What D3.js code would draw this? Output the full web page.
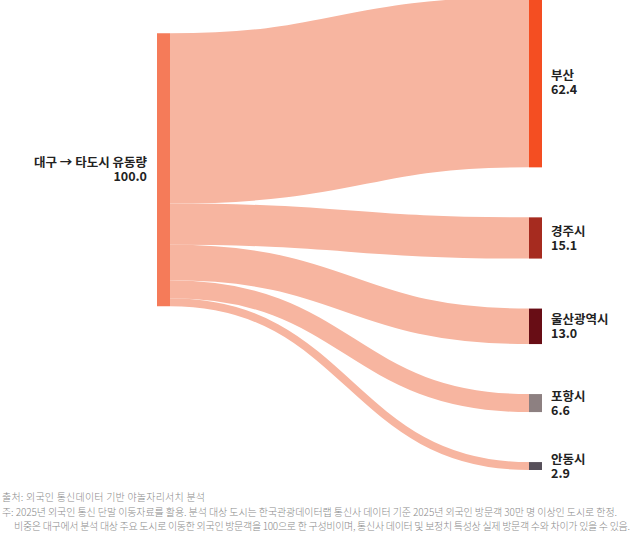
<!DOCTYPE html>
<html>
<head>
<meta charset="utf-8">
<script src="https://cdn.jsdelivr.net/npm/d3@7"></script>
<style>
  body { margin: 0; background: #fff; }
  text { font-family: "Noto Sans CJK KR", "Noto Sans", sans-serif; }
</style>
</head>
<body>
<div id="chart"></div>
<script>
// data
var sourceName = "대구 → 타도시 유동량";
var sourceValue = 100.0;
var targetNames = ["부산", "경주시", "울산광역시", "포항시", "안동시"];
var targetValues = [62.4, 15.1, 13.0, 6.6, 2.9];
var targetColors = ["#f44e22", "#a62b1f", "#680d15", "#8d8081", "#57505a"];
var notes = [
  "출처: 외국인 통신데이터 기반 야놀자리서치 분석",
  "주: 2025년 외국인 통신 단말 이동자료를 활용. 분석 대상 도시는 한국관광데이터랩 통신사 데이터 기준 2025년 외국인 방문객 30만 명 이상인 도시로 한정.",
  "비중은 대구에서 분석 대상 주요 도시로 이동한 외국인 방문객을 100으로 한 구성비이며, 통신사 데이터 및 보정치 특성상 실제 방문객 수와 차이가 있을 수 있음."
];
var noteWidths = [203, 615, 616];

var width = 640, height = 546;
var nodeWidth = 13, nodePadding = 50;
var extentTop = -3, extentBottom = 470;
var sourceX = 157, targetX = 529;

var svg = d3.select("#chart")
  .append("svg")
    .attr("width", width)
    .attr("height", height);

// value -> pixel thickness
var total = d3.sum(targetValues);
var k = (extentBottom - extentTop - nodePadding * (targetValues.length - 1)) / total;
var h = d3.scaleLinear().domain([0, total]).range([0, total * k]);

// target nodes stacked in the right column
var y = extentTop;
var nodes = targetNames.map(function(name, i) {
  var n = { name: name, value: targetValues[i], color: targetColors[i], y0: y, y1: y + h(targetValues[i]) };
  y = n.y1 + nodePadding;
  return n;
});

// source node sits at the weighted centre of its targets
var centre = d3.sum(nodes, function(n) { return n.value * (n.y0 + n.y1) / 2; }) / total;
var src = { y0: centre - h(sourceValue) / 2, y1: centre + h(sourceValue) / 2 };

// links
var sy = src.y0;
var links = nodes.map(function(n) {
  var w = h(n.value);
  var l = { width: w, sy: sy + w / 2, ty: (n.y0 + n.y1) / 2 };
  sy += w;
  return l;
});

var link = d3.linkHorizontal()
  .source(function(d) { return [sourceX + nodeWidth, d.sy]; })
  .target(function(d) { return [targetX, d.ty]; });

svg.append("g")
    .attr("fill", "none")
  .selectAll("path")
  .data(links)
  .enter()
  .append("path")
    .attr("d", link)
    .attr("stroke", "#f7b5a0")
    .attr("stroke-width", function(d) { return d.width; });

// nodes
svg.append("rect")
    .attr("x", sourceX)
    .attr("y", src.y0)
    .attr("width", nodeWidth)
    .attr("height", src.y1 - src.y0)
    .attr("fill", "#f57b59");

svg.append("g")
  .selectAll("rect")
  .data(nodes)
  .enter()
  .append("rect")
    .attr("x", targetX)
    .attr("y", function(d) { return d.y0; })
    .attr("width", nodeWidth)
    .attr("height", function(d) { return d.y1 - d.y0; })
    .attr("fill", function(d) { return d.color; });

// labels
function twoLines(g, x, c, anchor, name, value) {
  g.append("text")
      .attr("x", x)
      .attr("y", c - 2)
      .attr("text-anchor", anchor)
      .attr("font-size", 12.5)
      .attr("font-weight", 700)
      .attr("fill", "#222")
      .text(name);
  g.append("text")
      .attr("x", x)
      .attr("y", c + 12)
      .attr("text-anchor", anchor)
      .attr("font-size", 12.5)
      .attr("font-weight", 700)
      .attr("fill", "#222")
      .text(value);
}

var labelG = svg.append("g");
twoLines(labelG, sourceX - 10, centre - 1, "end", sourceName, sourceValue.toFixed(1));
nodes.forEach(function(d) {
  var c = Math.min((d.y0 + d.y1) / 2, 468);
  twoLines(labelG, targetX + nodeWidth + 9, c, "start", d.name, d.value.toFixed(1));
});

// notes
svg.append("g")
  .selectAll("text")
  .data(notes)
  .enter()
  .append("text")
    .attr("x", function(d, i) { return i == 2 ? 14 : 2; })
    .attr("y", function(d, i) { return 501 + i * 14.5; })
    .attr("font-size", 10)
    .attr("font-weight", 300)
    .attr("fill", "#8a8a8a")
    .attr("textLength", function(d, i) { return noteWidths[i]; })
    .attr("lengthAdjust", "spacing")
    .text(function(d) { return d; });
</script>
</body>
</html>
